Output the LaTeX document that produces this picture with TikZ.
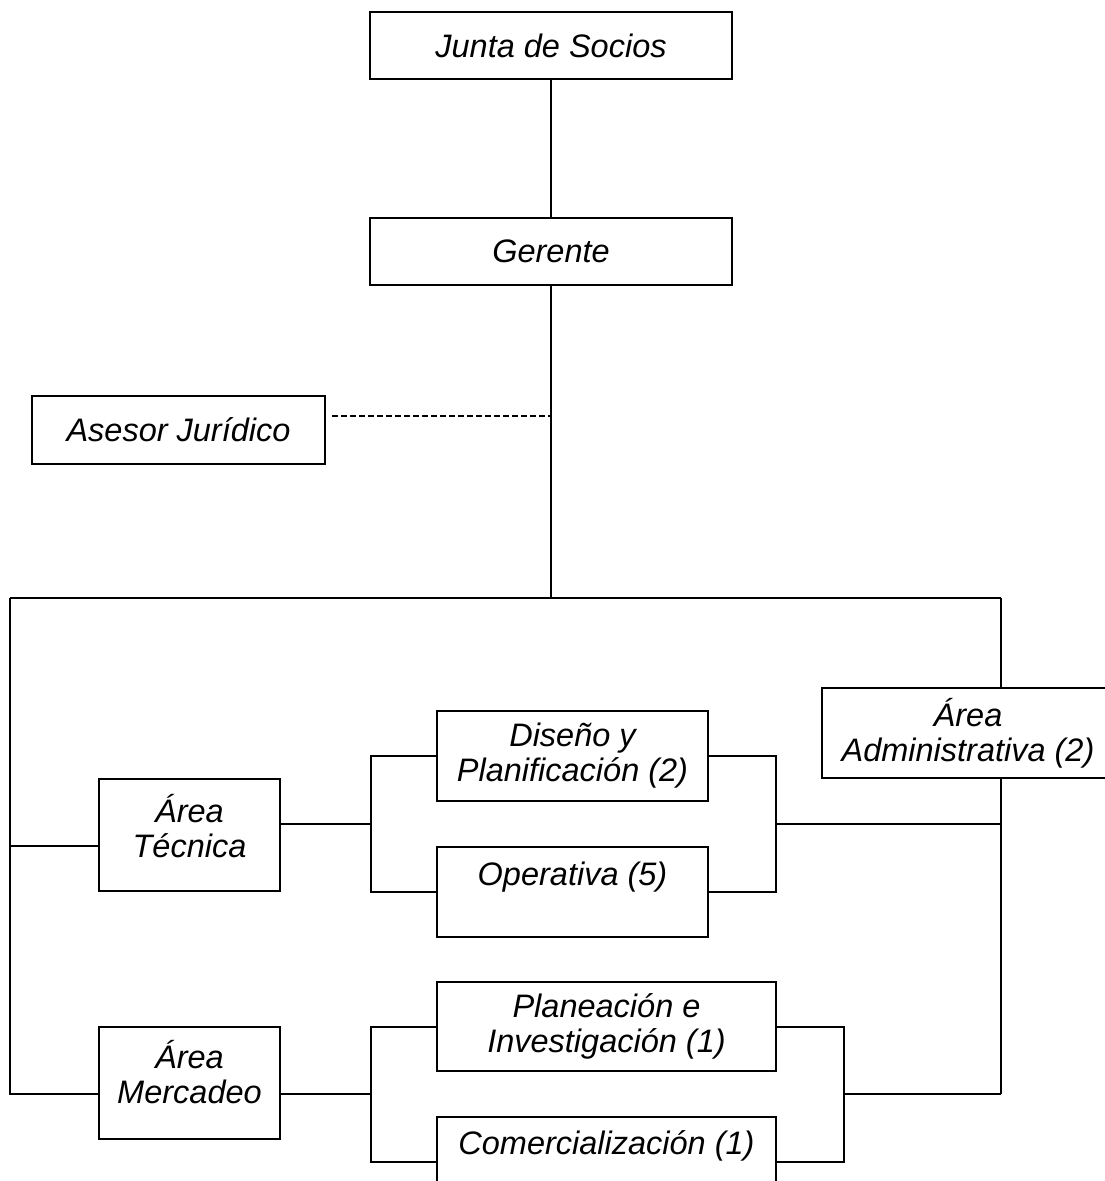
\documentclass[tikz,border=0pt]{standalone}
\usepackage{fontspec}
\setmainfont{Liberation Sans}
\usepackage{tikz}
\usetikzlibrary{calc}

\begin{document}
\begin{tikzpicture}[x=0.5pt,y=-0.5pt,
  box/.style={rectangle,draw,line width=1pt,inner sep=0pt,align=center,
              font=\fontsize{16.25}{17.5}\selectfont\itshape},
  lbl/.style={inner sep=0pt,align=center,
              font=\fontsize{16.25}{17.5}\selectfont\itshape},
  link/.style={line width=1pt},
  dashline/.style={line width=1pt,dash pattern=on 3pt off 1.5pt}
]
\useasboundingbox (0,0) rectangle (1104,1181);

\node[box,minimum width=181pt,minimum height=33.5pt] (junta)   at (551,45.5)  {Junta de Socios};
\node[box,minimum width=181pt,minimum height=33.5pt] (gerente) at (551,251.5) {Gerente};
\node[box,minimum width=146.5pt,minimum height=34pt] (asesor)  at (178.5,430) {Asesor Jurídico};

\node[box,minimum width=146pt,minimum height=45pt] (admin) at (968,733) {Área\\Administrativa (2)};

\node[box,minimum width=90.5pt,minimum height=56pt,
      label={[lbl,yshift=4.5pt]center:Área\\Técnica}] (tecnica) at (189.5,835) {};
\node[box,minimum width=135.5pt,minimum height=45pt] (diseno) at (572.5,756) {Diseño y\\Planificación (2)};
\node[box,minimum width=135.5pt,minimum height=45pt,
      label={[lbl,yshift=7.5pt]center:Operativa (5)}] (operativa) at (572.5,892) {};

\node[box,minimum width=90.5pt,minimum height=56pt,
      label={[lbl,yshift=5.5pt]center:Área\\Mercadeo}] (mercadeo) at (189.5,1083) {};
\node[box,minimum width=169.5pt,minimum height=44.5pt] (planeacion) at (606.5,1026.5) {Planeación e\\Investigación (1)};
\node[box,minimum width=169.5pt,minimum height=45pt,
      label={[lbl,yshift=8pt]center:Comercialización (1)}] (comercial) at (606.5,1162) {};

% junctions of the tree
\coordinate (tj) at (551,598);
\coordinate (dj) at (551,416);
\coordinate (lc) at (10,598);
\coordinate (rc) at (1001,598);
\coordinate (tl) at (10,846);
\coordinate (lb) at (10,1094);
\coordinate (rb) at (1001,1094);
\coordinate (tb) at (371,824);
\coordinate (tr) at (776,824);
\coordinate (mb) at (371,1094);
\coordinate (mr) at (844,1094);

\draw[link] (junta) -- (gerente);
\draw[link] (gerente) -- (tj);
\draw[dashline] ([xshift=3pt]asesor.east |- dj) -- (dj);

\draw[link] (lc) -- (rc);
\draw[link] (lc) -- (lb) -- (mercadeo.west |- lb);
\draw[link] (tl) -- (tecnica.west |- tl);
\draw[link] (rc) -- (admin.north -| rc);
\draw[link] (admin.south -| rc) -- (rb);

\draw[link] (tecnica.east |- tb) -- (tb);
\draw[link] (diseno.west) -| (tb) |- (operativa.west);
\draw[link] (diseno.east) -| (tr) |- (operativa.east);
\draw[link] (tr) -- (tr -| rc);

\draw[link] (mercadeo.east |- mb) -- (mb);
\draw[link] (planeacion.west) -| (mb) |- (comercial.west);
\draw[link] (planeacion.east) -| (mr) |- (comercial.east);
\draw[link] (mr) -- (rb);
\end{tikzpicture}
\end{document}
